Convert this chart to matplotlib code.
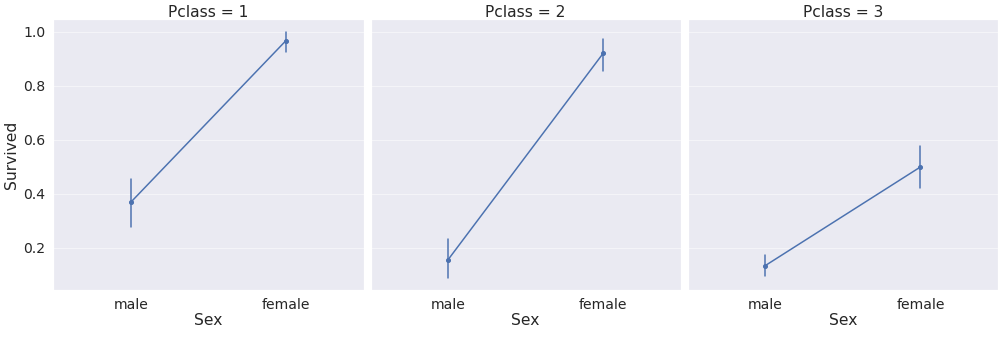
import matplotlib
matplotlib.use("Agg")
import matplotlib.pyplot as plt
import seaborn as sns

sns.set_theme(style="darkgrid")

# data
classes = [1, 2, 3]
sexes = ["male", "female"]
survived = [[0.370, 0.968], [0.157, 0.921], [0.135, 0.500]]
ci_low = [[0.278, 0.926], [0.090, 0.855], [0.098, 0.422]]
ci_high = [[0.457, 1.000], [0.232, 0.975], [0.173, 0.578]]

color = "#4C72B0"

fig, axes = plt.subplots(1, 3, figsize=(14, 339 / 72), dpi=72, sharey=True)
fig.subplots_adjust(left=0.053, right=0.990, bottom=0.145, top=0.944, wspace=0.023)

for i, ax in enumerate(axes):
    x = list(range(len(sexes)))
    y = survived[i]
    ax.plot(x, y, color=color, lw=1.5, marker="o", ms=4, zorder=3)
    for j in x:
        ax.plot([j, j], [ci_low[i][j], ci_high[i][j]], color=color, lw=1.5, zorder=3)
    ax.set_xticks(x)
    ax.set_xticklabels(sexes)
    ax.set_xlim(-0.5, 1.5)
    ax.set_title(f"Pclass = {classes[i]}", fontsize=15.5, pad=2)
    ax.set_xlabel("Sex", fontsize=15.5, labelpad=1)
    ax.tick_params(axis="both", labelsize=14, pad=2)
    ax.grid(axis="x", visible=False)
    ax.grid(axis="y", color="#f4f4f8", lw=1)

axes[0].set_ylim(0.045, 1.048)
axes[0].set_yticks([0.2, 0.4, 0.6, 0.8, 1.0])
axes[0].set_ylabel("Survived", fontsize=15.5, labelpad=4)

fig.savefig("out.png")
